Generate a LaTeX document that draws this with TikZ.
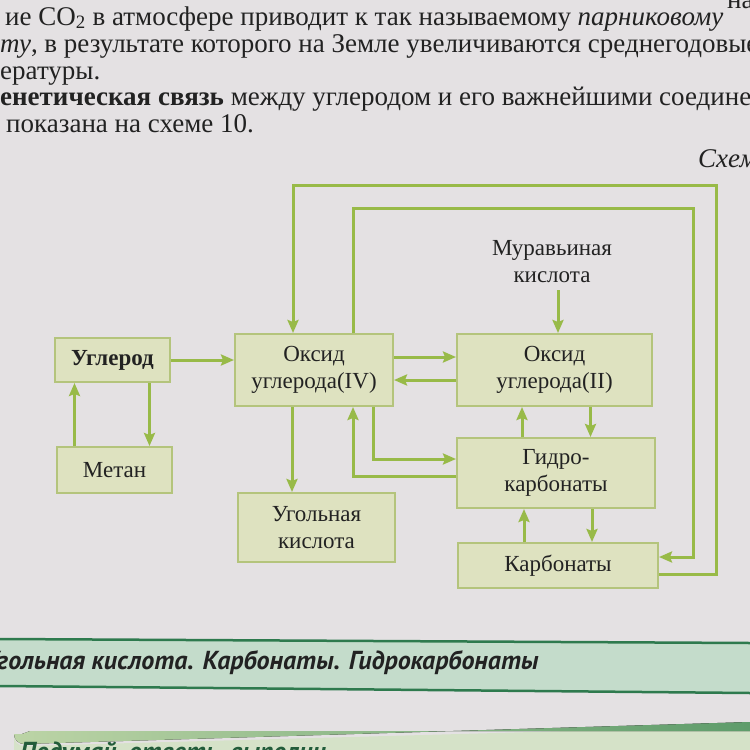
\documentclass[tikz,border=0pt]{standalone}
\usepackage{fontspec}
\setmainfont{Liberation Serif}
\newfontfamily\bandfont{PT Sans}
\usetikzlibrary{arrows.meta,calc}
\definecolor{pagebg}{HTML}{E4E1E3}
\definecolor{boxfill}{HTML}{DEE2C0}
\definecolor{boxline}{HTML}{B4C47C}
\definecolor{conn}{HTML}{98BA48}
\definecolor{bandfill}{HTML}{C4DCCB}
\definecolor{bandline}{HTML}{2E7A4E}
\definecolor{inktext}{HTML}{222222}
\definecolor{thinkfill}{HTML}{D5E2C8}
\definecolor{stripeL}{HTML}{BCD4A6}
\definecolor{stripeR}{HTML}{5E9C6B}
\tikzset{
  x=1pt, y=-1pt,
  chembox/.style={draw=boxline, line width=2pt, fill=boxfill, inner sep=0pt,
    align=center, text=inktext, font=\fontsize{23}{27}\selectfont},
  arr/.style={draw=conn, line width=3pt,
    -{Stealth[length=13pt,width=11pt,inset=2pt]}},
  pagetext/.style={anchor=base west, inner sep=0pt, text=inktext,
    font=\fontsize{27}{27}\selectfont},
}
\begin{document}
\begin{tikzpicture}
\useasboundingbox (0,0) rectangle (750,750);
\clip (0,0) rectangle (750,750);
\fill[pagebg] (0,0) rectangle (750,750);

% page text above
\node[pagetext] (t0) at (727,8) {на};
\node[pagetext] (t1) at (5,25) {ие CO\textsubscript{2} в атмосфере приводит к так называемому \textit{парниковому}};
\node[pagetext] (t2) at (0,52) {\textit{ту}, в результате которого на Земле увеличиваются среднегодовые};
\node[pagetext] (t3) at (0,79) {ературы.};
\node[pagetext] (t4) at (0,105) {\textbf{енетическая связь} между углеродом и его важнейшими соединениями};
\node[pagetext] (t5) at (6,132) {показана на схеме 10.};
\node[pagetext] (sch) at (698,167) {\textit{Схема 10}};

% boxes
\node[chembox, minimum width=115pt, minimum height=44pt] (C) at (112.5,360) {\textbf{Углерод}};
\node[chembox, minimum width=158pt, minimum height=72pt] (CO2) at (314,370) {Оксид\\углерода(IV)};
\node[chembox, minimum width=195pt, minimum height=72pt] (CO) at (554.5,370) {Оксид\\углерода(II)};
\node[align=center, text=inktext, inner sep=0pt, font=\fontsize{23}{27}\selectfont] (M) at (552,262) {Муравьиная\\кислота};
\node[chembox, minimum width=115pt, minimum height=46pt] (Me) at (114.5,470) {Метан};
\node[chembox, minimum width=157pt, minimum height=69pt] (UK) at (316.5,527.5) {Угольная\\кислота};
\node[chembox, minimum width=198pt, minimum height=70pt] (Gk) at (556,473) {Гидро-\\карбонаты};
\node[chembox, minimum width=200pt, minimum height=45pt] (K) at (558,565.5) {Карбонаты};

% connectors
\draw[arr] (C.east) -- (C.east -| CO2.west);
\draw[arr] ([yshift=13pt]CO2.east) -- ([yshift=13pt]CO2.east -| CO.west);
\draw[arr] ([yshift=-10pt]CO.west) -- ([yshift=-10pt]CO.west -| CO2.east);
\coordinate (mTop) at (558,290);
\draw[arr] (mTop) -- (mTop |- CO.north);
\draw[arr] ([xshift=-40pt]Me.north) -- ([xshift=-40pt]Me.north |- C.south);
\draw[arr] ([xshift=37pt]C.south) -- ([xshift=37pt]C.south |- Me.north);
\draw[arr] ([xshift=-22pt]CO2.south) -- ([xshift=-22pt]CO2.south |- UK.north);
\draw[arr] ([yshift=-3pt]Gk.west) -| ([xshift=39pt]CO2.south);
\draw[arr] ([xshift=59pt]CO2.south) |- ([yshift=14pt]Gk.west);
\draw[arr] ([xshift=-34pt]Gk.north) -- ([xshift=-34pt]Gk.north |- CO.south);
\draw[arr] ([xshift=36pt]CO.south) -- ([xshift=36pt]CO.south |- Gk.north);
\draw[arr] ([xshift=-34pt]K.north) -- ([xshift=-34pt]K.north |- Gk.south);
\draw[arr] ([xshift=36pt]Gk.south) -- ([xshift=36pt]Gk.south |- K.north);
\coordinate (o1) at (716,185);
\draw[arr] ([yshift=-8.5pt]K.east) -| (o1) -| ([xshift=-21pt]CO2.north);
\coordinate (i1) at (693,208);
\draw[arr] ([xshift=39pt]CO2.north) |- (i1) |- ([yshift=8.5pt]K.east);

% bottom band
\fill[bandfill] (0,639) -- (750,643) -- (750,693) -- (0,686) -- cycle;
\draw[bandline, line width=2.5pt] (0,639) -- (750,643);
\draw[bandline, line width=2.5pt] (0,686) -- (750,693);
\node[anchor=base west, inner sep=0pt, text=inktext, font=\bandfont\bfseries\itshape\fontsize{26}{30}\selectfont] (band) at (-16,669) {Угольная кислота. Карбонаты. Гидрокарбонаты};

% next section band
\fill[thinkfill] (14,750) -- (14,736) arc[start angle=180, end angle=270, radius=10pt] -- (750,726) -- (750,750) -- cycle;
\fill[left color=stripeL, right color=stripeR] (14,734) arc[start angle=180, end angle=270, radius=10pt] -- (750,722) -- (750,731) -- (30,731) -- (22,734) -- cycle;
\node[anchor=base west, inner sep=0pt, text=bandline!75!black, font=\bandfont\bfseries\itshape\fontsize{26}{30}\selectfont] (think) at (20,760) {Подумай, ответь, выполни...};
\end{tikzpicture}
\end{document}
